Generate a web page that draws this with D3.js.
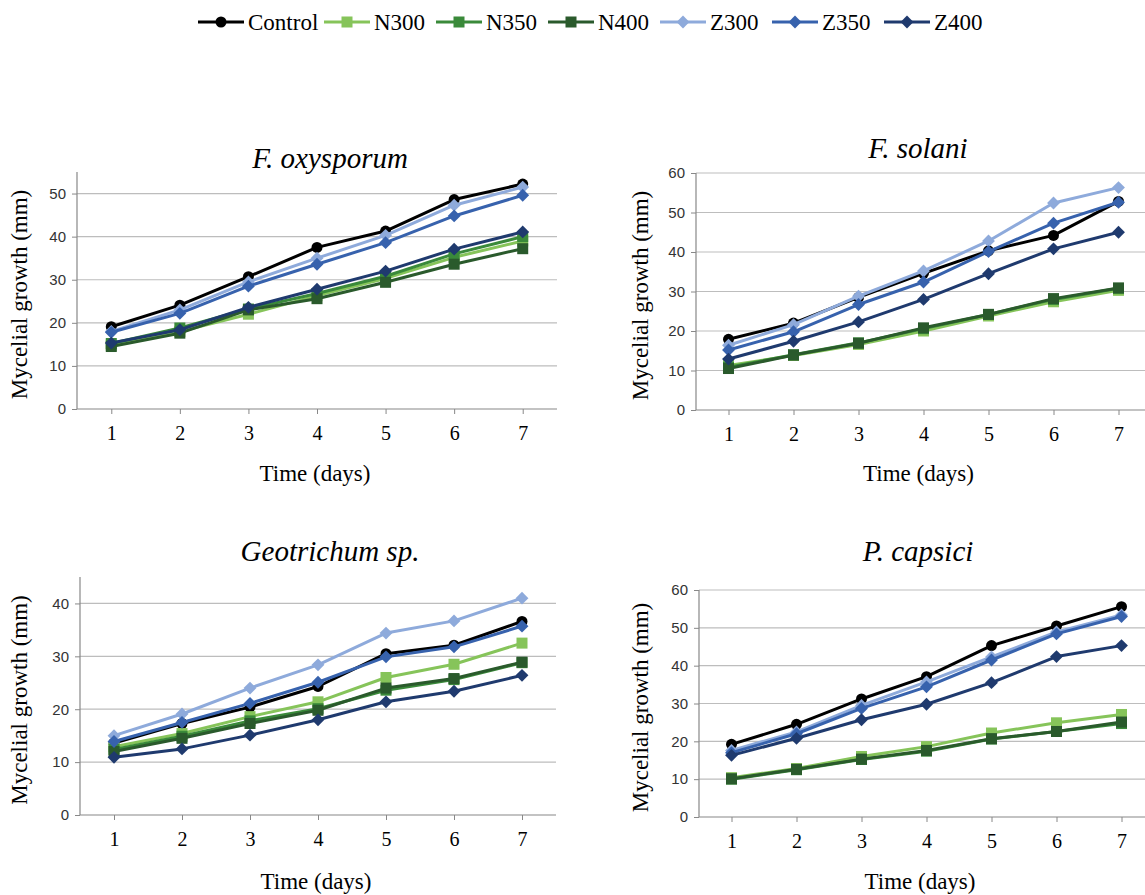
<!DOCTYPE html>
<html>
  <head>
    <meta charset="utf-8"/>
    <style>
body {
  margin: 0;
  background: #fff;
}
svg {
  display: block;
}
.tick-y {
  font-family: "Liberation Sans", Arial, sans-serif;
  font-size: 15px;
  fill: #333;
}
.serif {
  font-family: "Liberation Serif", "Times New Roman", serif;
  fill: #000;
}
    </style>
  </head>
  <body>
    <svg id="chart" width="1145" height="895"></svg>
    <script src="https://cdnjs.cloudflare.com/ajax/libs/d3/7.8.5/d3.min.js"></script>
    <script>
const days = [1, 2, 3, 4, 5, 6, 7];
const seriesNames = ["Control", "N300", "N350", "N400", "Z300", "Z350", "Z400"];
const seriesColors = ["#000000", "#86c45a", "#3a8a3a", "#2a5a2c", "#8eaadb", "#3762ad", "#1f3a6e"];
const seriesShapes = ["circle", "square", "square", "square", "diamond", "diamond", "diamond"];

// rows follow seriesNames
const oxysporum = [
  [19.1, 24.1, 30.7, 37.5, 41.3, 48.6, 52.2],
  [14.8, 18.0, 22.0, 26.3, 30.3, 35.2, 39.0],
  [15.2, 18.8, 23.2, 26.8, 30.8, 36.0, 40.0],
  [14.5, 17.6, 23.0, 25.6, 29.4, 33.6, 37.2],
  [18.0, 23.0, 29.5, 35.0, 40.3, 47.3, 51.5],
  [17.8, 22.2, 28.5, 33.6, 38.6, 44.8, 49.6],
  [15.3, 18.4, 23.6, 27.8, 32.0, 37.1, 41.1]
];
const solani = [
  [17.9, 22.0, 28.5, 34.6, 40.3, 44.2, 52.8],
  [11.3, 13.8, 16.6, 20.0, 23.8, 27.4, 30.3],
  [10.8, 14.0, 17.0, 20.6, 24.2, 28.0, 30.8],
  [10.5, 13.9, 16.9, 20.8, 24.2, 28.2, 30.9],
  [16.4, 21.6, 28.8, 35.2, 42.8, 52.4, 56.3],
  [15.2, 19.8, 26.7, 32.4, 40.1, 47.3, 52.6],
  [12.9, 17.4, 22.3, 28.0, 34.5, 40.8, 45.0]
];
const geotrichum = [
  [13.6, 17.3, 20.4, 24.3, 30.5, 32.1, 36.6],
  [12.9, 15.4, 18.6, 21.4, 26.0, 28.5, 32.5],
  [12.4, 14.9, 17.8, 20.1, 23.6, 25.6, 28.8],
  [12.0, 14.5, 17.3, 19.8, 24.0, 25.8, 28.9],
  [15.0, 19.1, 24.0, 28.4, 34.4, 36.7, 41.0],
  [13.9, 17.5, 21.1, 25.1, 29.9, 31.8, 35.7],
  [10.9, 12.5, 15.1, 18.0, 21.4, 23.4, 26.4]
];
const capsici = [
  [19.2, 24.5, 31.2, 37.1, 45.3, 50.5, 55.6],
  [10.4, 12.8, 16.0, 18.6, 22.2, 24.9, 27.1],
  [10.0, 12.5, 15.2, 17.4, 20.6, 22.6, 24.7],
  [10.1, 12.6, 15.3, 17.6, 20.7, 22.6, 25.1],
  [17.6, 22.5, 29.5, 35.7, 42.3, 48.9, 53.4],
  [17.0, 22.0, 28.7, 34.4, 41.5, 48.4, 53.0],
  [16.3, 20.8, 25.7, 29.8, 35.5, 42.4, 45.3]
];

const panels = [
  { title: "F. oxysporum", rows: oxysporum, ymax: 55, ticks: [0, 10, 20, 30, 40, 50],
    left: 77, right: 557, top: 172, bottom: 409, titleX: 330, titleY: 168, yTitleX: 27, xTitleY: 481 },
  { title: "F. solani", rows: solani, ymax: 60, ticks: [0, 10, 20, 30, 40, 50, 60],
    left: 696, right: 1151, top: 173, bottom: 410, titleX: 918, titleY: 158, yTitleX: 648, xTitleY: 481 },
  { title: "Geotrichum sp.", rows: geotrichum, ymax: 45, ticks: [0, 10, 20, 30, 40],
    left: 80, right: 556, top: 577, bottom: 815, titleX: 330, titleY: 561, yTitleX: 27, xTitleY: 889 },
  { title: "P. capsici", rows: capsici, ymax: 60, ticks: [0, 10, 20, 30, 40, 50, 60],
    left: 699, right: 1154, top: 590, bottom: 817, titleX: 918, titleY: 561, yTitleX: 648, xTitleY: 889 }
];

const svg = d3.select("#chart");

function drawMarker(g, shape, color, x, y) {
  if (shape === "circle") {
    g.append("circle").attr("cx", x).attr("cy", y).attr("r", 5.5).attr("fill", color);
  } else if (shape === "square") {
    g.append("rect").attr("x", x - 5.5).attr("y", y - 5.5).attr("width", 11).attr("height", 11).attr("fill", color);
  } else {
    g.append("path").attr("d", d3.symbol(d3.symbolDiamond2, 105)()).attr("transform", `translate(${x},${y})`).attr("fill", color);
  }
}

function drawPanel(p) {
  const x = d3.scalePoint().domain(days).range([p.left, p.right]).padding(0.5);
  const y = d3.scaleLinear().domain([0, p.ymax]).range([p.bottom, p.top]);
  const g = svg.append("g");

  // gridlines
  g.selectAll(".grid")
    .data(p.ticks.filter(t => t > 0))
    .join("line")
      .attr("x1", p.left).attr("x2", p.right)
      .attr("y1", d => y(d)).attr("y2", d => y(d))
      .attr("stroke", "#bdbdbd").attr("stroke-width", 1.2);

  // y axis
  const yAxis = g.append("g")
      .attr("transform", `translate(${p.left},0)`)
      .call(d3.axisLeft(y).tickValues(p.ticks).tickSize(5).tickPadding(6));
  yAxis.select(".domain").attr("d", `M0,${p.top}V${p.bottom}`).attr("stroke", "#888").attr("stroke-width", 1.2);
  yAxis.selectAll(".tick line").attr("stroke", "#888");
  yAxis.selectAll(".tick text").attr("class", "tick-y").attr("font-size", null).attr("font-family", null).attr("fill", null);

  // x axis
  const xAxis = g.append("g")
      .attr("transform", `translate(0,${p.bottom})`)
      .call(d3.axisBottom(x).tickSize(5).tickPadding(12).tickSizeOuter(0));
  xAxis.select(".domain").attr("d", `M${p.left},0H${p.right}`).attr("stroke", "#888").attr("stroke-width", 1.2);
  xAxis.selectAll(".tick line").attr("stroke", "#888");
  xAxis.selectAll(".tick text").attr("class", "serif").attr("font-size", "20px").attr("font-family", null).attr("fill", null);

  // series
  const line = d3.line().x((d, i) => x(days[i])).y(d => y(d));
  p.rows.forEach((vals, si) => {
    const sg = g.append("g");
    sg.append("path")
      .attr("d", line(vals))
      .attr("fill", "none")
      .attr("stroke", seriesColors[si])
      .attr("stroke-width", 3)
      .attr("stroke-linejoin", "round");
    vals.forEach((v, i) => drawMarker(sg, seriesShapes[si], seriesColors[si], x(days[i]), y(v)));
  });

  // titles
  g.append("text").attr("class", "serif")
    .attr("x", p.titleX).attr("y", p.titleY)
    .attr("text-anchor", "middle").attr("font-size", "29px").attr("font-style", "italic")
    .text(p.title);
  g.append("text").attr("class", "serif")
    .attr("transform", `translate(${p.yTitleX},${(p.top + p.bottom) / 2 + 4}) rotate(-90)`)
    .attr("text-anchor", "middle").attr("font-size", "23px")
    .text("Mycelial growth (mm)");
  g.append("text").attr("class", "serif")
    .attr("x", (p.left + Math.min(p.right, 1145)) / 2 - 2).attr("y", p.xTitleY)
    .attr("text-anchor", "middle").attr("font-size", "23px")
    .text("Time (days)");
}

panels.forEach(drawPanel);

// legend
const legendX = [198, 324, 436, 548, 660, 772, 884];
const legend = svg.append("g");
seriesNames.forEach((name, i) => {
  const lx = legendX[i];
  legend.append("line")
    .attr("x1", lx).attr("x2", lx + 46).attr("y1", 22).attr("y2", 22)
    .attr("stroke", seriesColors[i]).attr("stroke-width", 3);
  drawMarker(legend, seriesShapes[i], seriesColors[i], lx + 23, 22);
  legend.append("text").attr("class", "serif")
    .attr("x", lx + 50).attr("y", 30)
    .attr("font-size", "23px")
    .text(name);
});
    </script>
  </body>
</html>
